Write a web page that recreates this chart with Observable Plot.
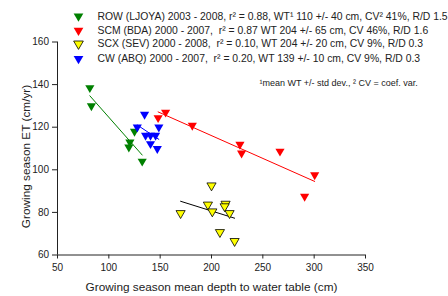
<!DOCTYPE html>
<html>
<head>
<meta charset="utf-8">
<script src="https://cdn.jsdelivr.net/npm/d3@7"></script>
<script src="https://cdn.jsdelivr.net/npm/@observablehq/plot@0.6"></script>
<style>
  html, body { margin: 0; padding: 0; background: #fff; }
</style>
</head>
<body>
<div id="chart"></div>
<script>
// ---- data ----
const rowX = [81.5, 83, 125, 120.5, 119.5, 132.5];
const rowY = [138.5, 130, 118, 113, 110.6, 104];
const scmX = [148, 155.3, 181.3, 227.7, 229.3, 266.7, 290.7, 300.5];
const scmY = [124.4, 127, 120.8, 111.9, 107.8, 108.7, 87.5, 97.6];
const scxX = [200, 196.5, 213.7, 212.8, 169.9, 200.8, 217.6, 208.2, 222.5];
const scxY = [92.6, 83.6, 84, 82.8, 79.6, 80.4, 79.6, 70.7, 66.5];
const cwX = [134.8, 127.7, 148.7, 135.8, 140.6, 145.5, 140.6, 147.2];
const cwY = [126, 120, 120, 116.1, 116.1, 116.1, 112.2, 109.9];

const xTicks = [50, 100, 150, 200, 250, 300, 350];
const yTicks = [60, 80, 100, 120, 140, 160];

const seriesNames = ["ROW", "SCM", "SCX", "CW"];
const seriesFill = ["#008000", "#ff0000", "#ffff00", "#0000ff"];
const seriesStroke = ["none", "none", "#000000", "none"];
const lineColors = ["#008000", "#ff0000", "#000000", "#0000ff"];
const legendLabels = [
  "ROW (LJOYA) 2003 - 2008, r² = 0.88, WT¹ 110 +/- 40 cm, CV² 41%, R/D 1.5",
  "SCM (BDA) 2000 - 2007,  r² = 0.87 WT 204 +/- 65 cm, CV 46%, R/D 1.6",
  "SCX (SEV) 2000 - 2008,  r² = 0.10, WT 204 +/- 20 cm, CV 9%, R/D 0.3",
  "CW (ABQ) 2000 - 2007,  r² = 0.20, WT 139 +/- 10 cm, CV 9%, R/D 0.3"
];
const footnote = "¹mean WT +/- std dev., ² CV = coef. var.";
const xTitle = "Growing season mean depth to water table (cm)";
const yTitle = "Growing season ET (cm/yr)";

const seriesX = [rowX, scmX, scxX, cwX];
const seriesY = [rowY, scmY, scxY, cwY];
const tables = seriesX.map((xs, i) => xs.map((x, j) => ({x, y: seriesY[i][j], s: seriesNames[i]})));

const marks = [];
// axes
marks.push(Plot.ruleX([50], {stroke: "#222", strokeWidth: 1}));
marks.push(Plot.ruleY([60], {stroke: "#222", strokeWidth: 1}));
marks.push(Plot.axisX({ticks: xTicks, tickSize: 4, tickPadding: 5, label: null, stroke: "#222", fill: "#222", fontSize: 10}));
marks.push(Plot.axisY({ticks: yTicks, tickSize: 5, tickPadding: 3.5, label: null, stroke: "#222", fill: "#222", fontSize: 10}));
// axis titles
marks.push(Plot.text([xTitle], {frameAnchor: "bottom", dy: 32, textAnchor: "middle", lineAnchor: "middle", fontSize: 11.8, fill: "#222"}));
marks.push(Plot.text([yTitle], {frameAnchor: "left", dx: -31, dy: 8, rotate: -90, textAnchor: "middle", lineAnchor: "middle", fontSize: 11.8, fill: "#222"}));

// regression lines
tables.forEach((t, i) => {
  marks.push(Plot.linearRegressionY(t, {x: "x", y: "y", ci: 0, stroke: lineColors[i], strokeWidth: 1}));
});
// points
tables.forEach((t, i) => {
  marks.push(Plot.dot(t, {x: "x", y: "y", symbol: "triangle", rotate: 180, r: 3.4,
    fill: seriesFill[i], stroke: seriesStroke[i], strokeWidth: 0.8}));
});

// legend
const legendDy = [-25.8, -11.5, 1.8, 16.7];
legendLabels.forEach((lab, i) => {
  marks.push(Plot.dot([lab], {frameAnchor: "top-left", dx: 21, dy: legendDy[i], symbol: "triangle", rotate: 180, r: 3.6,
    fill: seriesFill[i], stroke: seriesStroke[i], strokeWidth: 0.8}));
  marks.push(Plot.text([lab], {frameAnchor: "top-left", dx: 40, dy: legendDy[i], textAnchor: "start", lineAnchor: "middle", fontSize: 10.4, fill: "#222"}));
});
marks.push(Plot.text([footnote], {frameAnchor: "top-left", dx: 202, dy: 41.5, textAnchor: "start", lineAnchor: "middle", fontSize: 9, fill: "#222"}));

const chart = Plot.plot({
  width: 448,
  height: 296,
  marginLeft: 57,
  marginRight: 83,
  marginTop: 41.5,
  marginBottom: 41.5,
  x: {domain: [50, 350], label: null},
  y: {domain: [60, 160], label: null},
  style: {fontFamily: "'Liberation Sans', Arial, sans-serif", fontSize: "10px", background: "#fff", overflow: "visible"},
  marks
});
document.getElementById("chart").appendChild(chart);
</script>
</body>
</html>
